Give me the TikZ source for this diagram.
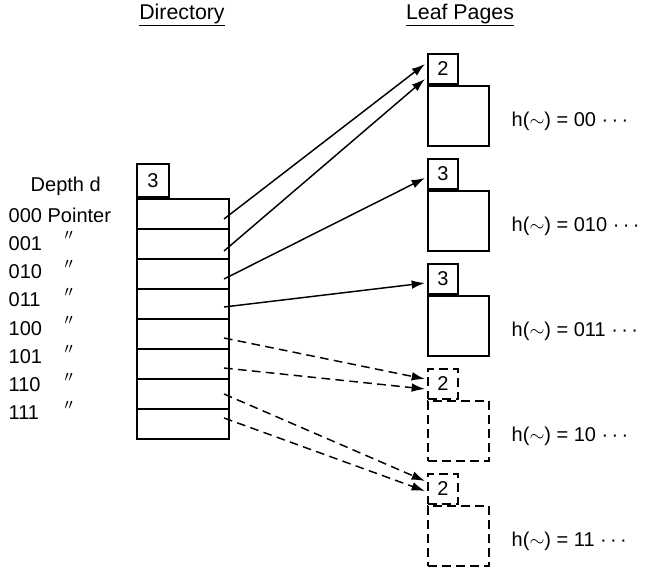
\documentclass[tikz,border=0pt]{standalone}
\usepackage{fontspec}
\setmainfont{Liberation Sans}
\usetikzlibrary{arrows.meta,calc}

\tikzset{
  cell/.style={draw,line width=1.5pt,minimum width=69pt,minimum height=22.5pt,inner sep=0pt,anchor=north west},
  dirtab/.style={draw,line width=1.5pt,minimum width=24pt,minimum height=24.75pt,inner sep=0pt,anchor=south west},
  leaftab/.style={draw,line width=1.5pt,minimum width=22.5pt,minimum height=22.5pt,inner sep=0pt,anchor=north west},
  leafbox/.style={draw,line width=1.5pt,minimum width=45.75pt,minimum height=45pt,inner sep=0pt,anchor=north west},
  ptr/.style={-{Latex[length=10pt,width=6.5pt]},line width=1.1pt},
  newpg/.style={dash pattern=on 6.5pt off 4pt},
}

\begin{document}
\begin{tikzpicture}[x=0.75pt,y=0.75pt,yscale=-1,xscale=1,font=\fontsize{15}{18}\selectfont]
    \useasboundingbox (0,0) rectangle (653,567);

    % Headings
    \node [font=\fontsize{16}{19}\selectfont] (dirhead) at (182,15) {\underline{Directory}};
    \node [font=\fontsize{16}{19}\selectfont] (leafhead) at (460,15) {\underline{Leaf Pages}};

    %Shape: Directory
    \node [dirtab] (dt) at (136,198) {3};
    \foreach \i in {0,...,7}
      \node [cell] (d\i) at (136,198+30*\i) {};

    % Text Node
    \node [anchor=west] (depth) at (26,186) {Depth d};
    \node [anchor=west] (r0) at (4,215) {000 Pointer};
    \foreach \b [count=\i] in {001,010,011,100,101,110,111} {
      \node [anchor=west] (r\i) at (4,215+28.3*\i) {\b};
      \node (q\i) at (69,211+28.3*\i) {$''$};
    }

    %Shape: Leaf pages
    \foreach \dd/\hh/\ss [count=\i] in {2/00/solid,3/010/solid,3/011/solid,2/10/newpg,2/11/newpg} {
      \node [leaftab,\ss] (lt\i) at (427,53+105*\i-105) {\dd};
      \node [leafbox,\ss] (lb\i) at (lt\i.south west) {};
      \node [anchor=west] (lh\i) at ($(lb\i.east)+(17,5)$) {h(${\sim}$) = \hh\ ·\,·\,·};
    }

    %Straight Lines
    \draw [ptr] ($(d0.east)+(-6,5)$) -- ($(lt1.west)+(-2,-5)$);
    \draw [ptr] ($(d1.east)+(-6,7)$) -- ($(lt1.west)+(-2,10)$);
    \draw [ptr] ($(d2.east)+(-6,5)$) -- ($(lt2.west)+(-2,4)$);
    \draw [ptr] ($(d3.east)+(-6,3)$) -- ($(lt3.west)+(-2,4)$);
    \draw [ptr,newpg] ($(d4.east)+(-6,4)$) -- ($(lt4.west)+(-2,-5)$);
    \draw [ptr,newpg] ($(d5.east)+(-6,4)$) -- ($(lt4.west)+(-2,5)$);
    \draw [ptr,newpg] ($(d6.east)+(-6,0)$) -- ($(lt5.west)+(-2,-8)$);
    \draw [ptr,newpg] ($(d7.east)+(-6,-6)$) -- ($(lt5.west)+(-2,2)$);

\end{tikzpicture}
\end{document}
